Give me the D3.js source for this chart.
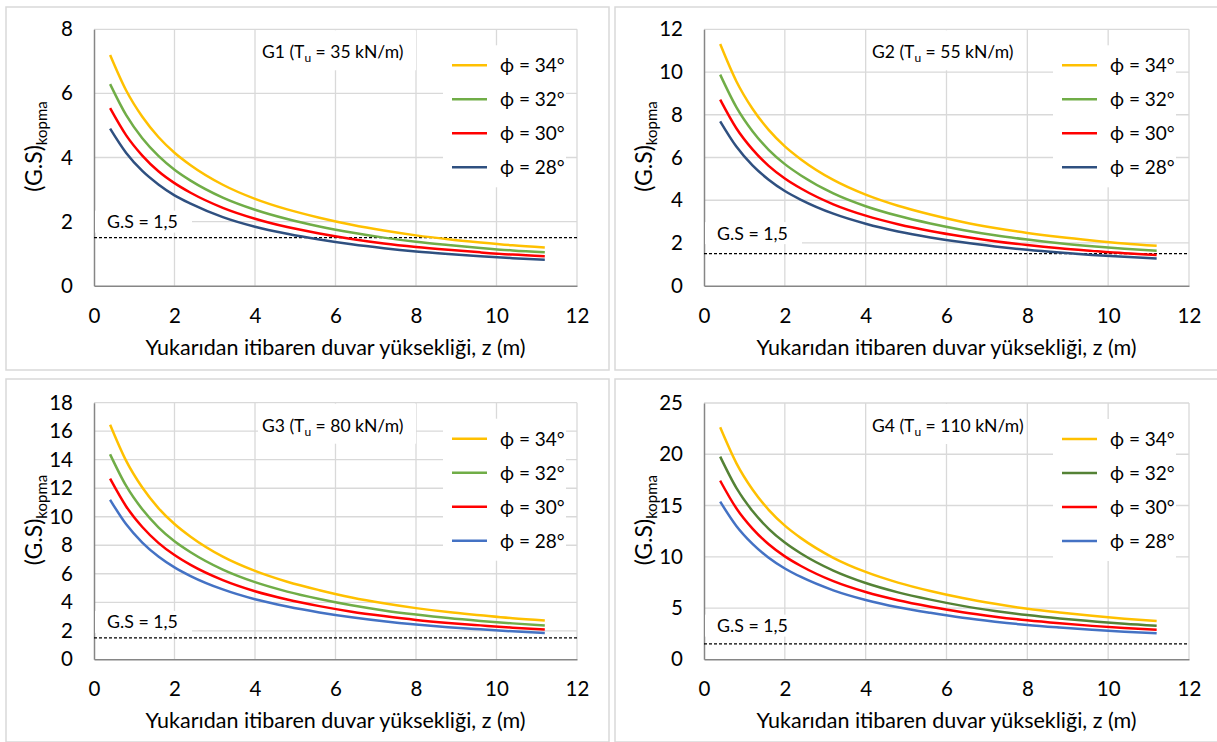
<!DOCTYPE html>
<html>
<head>
<meta charset="utf-8">
<script src="https://cdn.jsdelivr.net/npm/d3@7"></script>
<style>
  body { margin: 0; background: #fff; }
  svg { display: block; font-family: Lato, 'Open Sans', sans-serif; }
</style>
</head>
<body>
<div class="svg-container"></div>
<script>
// wall height measured from the top, z (m)
const zValues = [0.4, 0.8, 1.2, 1.6, 2.0, 2.4, 3.2, 4.0, 4.8, 5.6, 6.4, 7.2, 8.0, 8.8, 9.6, 10.4, 11.2];

const phiLabels = ['\u03D5 = 34\u00B0', '\u03D5 = 32\u00B0', '\u03D5 = 30\u00B0', '\u03D5 = 28\u00B0'];

// G1 (Tu = 35 kN/m)
const g1Phi34 = [7.20, 6.09, 5.27, 4.64, 4.15, 3.76, 3.15, 2.71, 2.38, 2.12, 1.90, 1.72, 1.57, 1.45, 1.35, 1.26, 1.19];
const g1Phi32 = [6.29, 5.32, 4.60, 4.05, 3.62, 3.28, 2.75, 2.37, 2.08, 1.85, 1.66, 1.50, 1.37, 1.27, 1.18, 1.10, 1.04];
const g1Phi30 = [5.54, 4.69, 4.06, 3.57, 3.20, 2.90, 2.43, 2.09, 1.83, 1.63, 1.46, 1.32, 1.21, 1.12, 1.04, 0.97, 0.92];
const g1Phi28 = [4.90, 4.14, 3.58, 3.16, 2.82, 2.56, 2.14, 1.84, 1.62, 1.44, 1.29, 1.17, 1.07, 0.99, 0.92, 0.86, 0.81];

// G2 (Tu = 55 kN/m)
const g2Phi34 = [11.31, 9.57, 8.28, 7.29, 6.52, 5.91, 4.95, 4.26, 3.74, 3.33, 2.98, 2.70, 2.47, 2.28, 2.12, 1.98, 1.87];
const g2Phi32 = [9.88, 8.36, 7.23, 6.36, 5.69, 5.16, 4.32, 3.72, 3.27, 2.91, 2.61, 2.36, 2.16, 1.99, 1.85, 1.73, 1.63];
const g2Phi30 = [8.71, 7.37, 6.38, 5.61, 5.02, 4.55, 3.81, 3.28, 2.88, 2.56, 2.30, 2.08, 1.90, 1.75, 1.63, 1.52, 1.44];
const g2Phi28 = [7.69, 6.51, 5.63, 4.96, 4.43, 4.02, 3.37, 2.90, 2.54, 2.26, 2.03, 1.84, 1.68, 1.55, 1.44, 1.35, 1.27];

// G3 (Tu = 80 kN/m)
const g3Phi34 = [16.46, 13.92, 12.05, 10.61, 9.49, 8.60, 7.20, 6.20, 5.44, 4.85, 4.34, 3.93, 3.59, 3.31, 3.09, 2.88, 2.72];
const g3Phi32 = [14.38, 12.16, 10.52, 9.26, 8.28, 7.51, 6.29, 5.41, 4.75, 4.23, 3.79, 3.43, 3.14, 2.89, 2.69, 2.52, 2.37];
const g3Phi30 = [12.67, 10.72, 9.28, 8.17, 7.31, 6.62, 5.55, 4.77, 4.19, 3.73, 3.34, 3.03, 2.76, 2.55, 2.38, 2.22, 2.09];
const g3Phi28 = [11.19, 9.47, 8.19, 7.21, 6.45, 5.84, 4.90, 4.21, 3.70, 3.29, 2.95, 2.67, 2.44, 2.25, 2.10, 1.96, 1.85];

// G4 (Tu = 110 kN/m)
const g4Phi34 = [22.63, 19.14, 16.56, 14.58, 13.04, 11.82, 9.90, 8.52, 7.48, 6.66, 5.97, 5.41, 4.93, 4.56, 4.24, 3.96, 3.74];
const g4Phi32 = [19.77, 16.72, 14.46, 12.73, 11.39, 10.32, 8.65, 7.44, 6.53, 5.82, 5.21, 4.72, 4.31, 3.98, 3.71, 3.46, 3.27];
const g4Phi30 = [17.42, 14.73, 12.75, 11.22, 10.04, 9.10, 7.62, 6.56, 5.76, 5.13, 4.59, 4.16, 3.80, 3.51, 3.26, 3.05, 2.88];
const g4Phi28 = [15.38, 13.01, 11.26, 9.91, 8.86, 8.03, 6.73, 5.79, 5.08, 4.53, 4.05, 3.67, 3.35, 3.10, 2.88, 2.69, 2.54];

const safetyLimit = 1.5;
const xTicks = [0, 2, 4, 6, 8, 10, 12];

const panels = [
  { name: 'G1', tu: '35', yTicks: [0, 2, 4, 6, 8], series: [g1Phi34, g1Phi32, g1Phi30, g1Phi28],
    colours: ['#FFC000', '#70AD47', '#FF0000', '#2F5080'],
    frame: { x: 6, y: 7 }, plot: { x0: 94, x1: 577, top: 29.3, bottom: 285.7 }, gsOffset: 16 },
  { name: 'G2', tu: '55', yTicks: [0, 2, 4, 6, 8, 10, 12], series: [g2Phi34, g2Phi32, g2Phi30, g2Phi28],
    colours: ['#FFC000', '#70AD47', '#FF0000', '#2F5080'],
    frame: { x: 615, y: 7 }, plot: { x0: 704, x1: 1189, top: 29.3, bottom: 285.7 }, gsOffset: 20.5 },
  { name: 'G3', tu: '80', yTicks: [0, 2, 4, 6, 8, 10, 12, 14, 16, 18], series: [g3Phi34, g3Phi32, g3Phi30, g3Phi28],
    colours: ['#FFC000', '#70AD47', '#FF0000', '#4472C4'],
    frame: { x: 6, y: 379 }, plot: { x0: 94, x1: 577, top: 402.7, bottom: 659.3 }, gsOffset: 16 },
  { name: 'G4', tu: '110', yTicks: [0, 5, 10, 15, 20, 25], series: [g4Phi34, g4Phi32, g4Phi30, g4Phi28],
    colours: ['#FFC000', '#548235', '#FF0000', '#4472C4'],
    frame: { x: 615, y: 379 }, plot: { x0: 704, x1: 1189, top: 403, bottom: 659.3 }, gsOffset: 18.3 }
];

const width = 1217;
const height = 742;

const svg = d3.select('.svg-container')
  .append('svg')
  .attr('width', width)
  .attr('height', height);

svg.append('rect')
  .attr('width', width)
  .attr('height', height)
  .attr('fill', '#fff');

panels.forEach((p) => {
  const g = svg.append('g');

  // chart frame
  g.append('rect')
    .attr('x', p.frame.x)
    .attr('y', p.frame.y)
    .attr('width', 603)
    .attr('height', 363)
    .attr('fill', '#fff')
    .attr('stroke', '#d9d9d9')
    .attr('stroke-width', 1.5);

  const x = d3.scaleLinear().domain([0, 12]).range([p.plot.x0, p.plot.x1]);
  const y = d3.scaleLinear().domain([0, d3.max(p.yTicks)]).range([p.plot.bottom, p.plot.top]);

  // gridlines
  g.append('g')
    .selectAll('line.vgrid')
    .data(xTicks.slice(1))
    .enter()
    .append('line')
    .attr('x1', (d) => x(d))
    .attr('x2', (d) => x(d))
    .attr('y1', y.range()[0])
    .attr('y2', y.range()[1])
    .attr('stroke', '#d9d9d9')
    .attr('stroke-width', 1.3);

  g.append('g')
    .selectAll('line.hgrid')
    .data(p.yTicks.slice(1))
    .enter()
    .append('line')
    .attr('x1', x.range()[0])
    .attr('x2', x.range()[1])
    .attr('y1', (d) => y(d))
    .attr('y2', (d) => y(d))
    .attr('stroke', '#d9d9d9')
    .attr('stroke-width', 1.3);

  // axes
  const xAxis = d3.axisBottom(x).tickValues(xTicks).tickSize(0).tickPadding(22);
  const yAxis = d3.axisLeft(y).tickValues(p.yTicks).tickSize(0).tickPadding(21);

  const gx = g.append('g')
    .attr('transform', `translate(0,${p.plot.bottom})`)
    .call(xAxis);
  const gy = g.append('g')
    .attr('transform', `translate(${p.plot.x0},0)`)
    .call(yAxis);

  [gx, gy].forEach((ax) => {
    ax.select('.domain').attr('stroke', '#868686').attr('stroke-width', 1.5);
    ax.selectAll('text')
      .attr('font-family', 'Lato, sans-serif')
      .attr('font-size', 20.5)
      .attr('fill', '#000');
  });
  gx.selectAll('text').attr('dy', 0).attr('y', 37);

  // axis titles
  g.append('text')
    .attr('x', (p.plot.x0 + p.plot.x1) / 2)
    .attr('y', p.plot.bottom + 69)
    .attr('text-anchor', 'middle')
    .attr('font-size', 21.5)
    .attr('fill', '#000')
    .text('Yukarıdan itibaren duvar yüksekliği, z (m)');

  const yTitle = g.append('text')
    .attr('transform', `translate(${p.plot.x0 - 52},${(p.plot.top + p.plot.bottom) / 2 - 11}) rotate(-90)`)
    .attr('text-anchor', 'middle')
    .attr('font-size', 23)
    .attr('fill', '#000');
  yTitle.append('tspan').text('(G.S)');
  yTitle.append('tspan').attr('font-size', 15).attr('dy', 5).text('kopma');

  // safety factor limit
  g.append('line')
    .attr('x1', x.range()[0])
    .attr('x2', x.range()[1])
    .attr('y1', y(safetyLimit))
    .attr('y2', y(safetyLimit))
    .attr('stroke', '#000')
    .attr('stroke-width', 1.2)
    .attr('stroke-dasharray', '3,2');

  // curves
  const line = d3.line()
    .x((d, i) => x(zValues[i]))
    .y((d) => y(d))
    .curve(d3.curveMonotoneX);

  g.append('g')
    .selectAll('path')
    .data(p.series)
    .enter()
    .append('path')
    .attr('d', line)
    .attr('fill', 'none')
    .attr('stroke', (d, i) => p.colours[i])
    .attr('stroke-width', 2.5);

  // G.S = 1,5 label
  const gsY = y(safetyLimit) - p.gsOffset;
  g.append('rect')
    .attr('x', p.plot.x0 + 1)
    .attr('y', gsY - 11)
    .attr('width', 97)
    .attr('height', 22)
    .attr('fill', '#fff');
  g.append('text')
    .attr('x', p.plot.x0 + 13)
    .attr('y', gsY + 6.5)
    .attr('font-size', 17.8)
    .attr('fill', '#000')
    .text('G.S = 1,5');

  // group annotation
  g.append('rect')
    .attr('x', p.plot.x0 + 164)
    .attr('y', p.plot.top + 1)
    .attr('width', 158)
    .attr('height', 40)
    .attr('fill', '#fff');
  const note = g.append('text')
    .attr('x', p.plot.x0 + 168)
    .attr('y', p.plot.top + 29)
    .attr('font-size', 17.5)
    .attr('fill', '#000');
  note.append('tspan').text(`${p.name} (T`);
  note.append('tspan').attr('font-size', 12).attr('dy', 4).text('u');
  note.append('tspan').attr('dy', -4).text(` = ${p.tu} kN/m)`);

  // legend
  const lg = g.append('g').attr('transform', `translate(${p.plot.x0 + 349},${p.plot.top})`);
  lg.append('rect')
    .attr('x', 0)
    .attr('y', 16)
    .attr('width', 123)
    .attr('height', 142)
    .attr('fill', '#fff');

  const rows = lg.selectAll('g.row')
    .data(phiLabels)
    .enter()
    .append('g')
    .attr('transform', (d, i) => `translate(0,${36 + i * 34})`);

  rows.append('line')
    .attr('x1', 9)
    .attr('x2', 44)
    .attr('stroke', (d, i) => p.colours[i])
    .attr('stroke-width', 2.5);

  rows.append('text')
    .attr('x', 57)
    .attr('y', 7)
    .attr('font-size', 19)
    .attr('fill', '#000')
    .text((d) => d);
});
</script>
</body>
</html>
